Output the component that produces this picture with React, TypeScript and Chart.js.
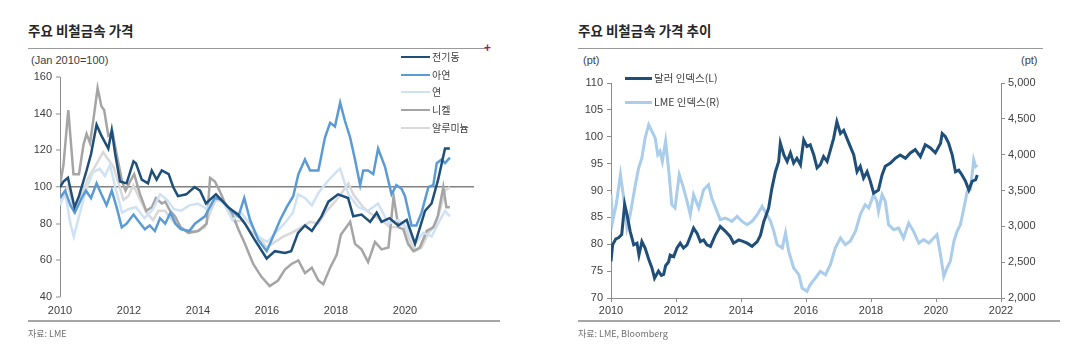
import React, { useEffect, useRef } from "react";
import { Chart, registerables } from "chart.js";

Chart.register(...registerables);

const FONT = "'Liberation Sans', 'Noto Sans CJK KR', sans-serif";
const KFONT = "'Noto Sans CJK KR', 'Liberation Sans', sans-serif";

// ---------- Left chart: 주요 비철금속 가격 (Jan 2010=100) ----------
const copperYears = [2010.0, 2010.1, 2010.23, 2010.42, 2010.55, 2010.77, 2010.9, 2011.06, 2011.2, 2011.4, 2011.5, 2011.6, 2011.74, 2011.93, 2012.13, 2012.2, 2012.37, 2012.55, 2012.66, 2012.8, 2012.95, 2013.15, 2013.28, 2013.42, 2013.66, 2013.9, 2014.06, 2014.23, 2014.52, 2014.87, 2015.16, 2015.36, 2015.65, 2015.99, 2016.23, 2016.52, 2016.7, 2016.9, 2017.1, 2017.3, 2017.58, 2017.78, 2018.06, 2018.35, 2018.5, 2018.74, 2018.99, 2019.18, 2019.32, 2019.55, 2019.8, 2020.05, 2020.29, 2020.58, 2020.77, 2020.96, 2021.16, 2021.3];
const copperValues = [100, 103, 105, 89, 95, 109, 118, 134, 128, 121, 131, 118, 103, 102, 114, 113, 104, 102, 109, 104, 109, 107, 100, 95, 96, 100, 98, 91, 96, 89, 85, 80, 71, 61, 65, 64, 65, 75, 79, 76, 84, 92, 96, 94, 84, 85, 81, 86, 81, 83, 79, 82, 69, 87, 91, 104, 121, 121];

const zincYears = [2010.0, 2010.15, 2010.3, 2010.43, 2010.63, 2010.75, 2010.9, 2011.06, 2011.2, 2011.35, 2011.5, 2011.64, 2011.79, 2011.93, 2012.13, 2012.25, 2012.46, 2012.6, 2012.75, 2012.9, 2013.05, 2013.2, 2013.35, 2013.5, 2013.75, 2013.91, 2014.2, 2014.49, 2014.69, 2014.98, 2015.17, 2015.34, 2015.51, 2015.75, 2015.99, 2016.13, 2016.38, 2016.57, 2016.76, 2016.91, 2017.1, 2017.25, 2017.49, 2017.68, 2017.83, 2017.97, 2018.12, 2018.26, 2018.41, 2018.55, 2018.7, 2018.79, 2018.93, 2019.08, 2019.22, 2019.42, 2019.61, 2019.75, 2019.9, 2020.0, 2020.19, 2020.33, 2020.48, 2020.68, 2020.82, 2020.92, 2021.06, 2021.16, 2021.3];
const zincValues = [94, 98, 90, 86, 94, 98, 94, 102, 96, 90, 98, 89, 78, 80, 85, 82, 77, 79, 76, 83, 80, 86, 80, 77, 76, 80, 84, 94, 93, 87, 84, 94, 82, 71, 65, 71, 82, 89, 95, 107, 115, 109, 109, 127, 135, 133, 146, 136, 127, 115, 101, 109, 109, 107, 121, 111, 96, 101, 99, 95, 79, 79, 86, 100, 101, 113, 115, 113, 116];

const leadYears = [2010.0, 2010.15, 2010.3, 2010.4, 2010.55, 2010.75, 2010.95, 2011.15, 2011.3, 2011.45, 2011.6, 2011.8, 2012.0, 2012.2, 2012.45, 2012.7, 2012.9, 2013.1, 2013.3, 2013.5, 2013.75, 2014.0, 2014.25, 2014.5, 2014.75, 2015.0, 2015.25, 2015.5, 2015.75, 2016.0, 2016.25, 2016.5, 2016.75, 2016.9, 2017.1, 2017.3, 2017.5, 2017.75, 2018.0, 2018.12, 2018.36, 2018.65, 2018.93, 2019.22, 2019.52, 2019.81, 2020.05, 2020.29, 2020.53, 2020.77, 2020.96, 2021.16, 2021.3];
const leadValues = [90, 97, 80, 73, 84, 98, 108, 110, 106, 112, 100, 86, 88, 89, 83, 88, 96, 93, 88, 87, 90, 91, 88, 94, 91, 82, 86, 80, 73, 70, 75, 80, 86, 96, 94, 90, 97, 103, 108, 110, 96, 89, 87, 91, 80, 82, 78, 69, 75, 73, 80, 87, 84];

const nickelYears = [2010.0, 2010.1, 2010.24, 2010.39, 2010.55, 2010.68, 2010.77, 2010.87, 2010.97, 2011.09, 2011.2, 2011.28, 2011.4, 2011.52, 2011.64, 2011.8, 2011.9, 2012.03, 2012.15, 2012.32, 2012.5, 2012.66, 2012.78, 2012.95, 2013.05, 2013.19, 2013.33, 2013.5, 2013.72, 2014.01, 2014.25, 2014.35, 2014.49, 2014.65, 2014.83, 2014.98, 2015.17, 2015.36, 2015.6, 2015.84, 2016.08, 2016.32, 2016.52, 2016.71, 2016.91, 2017.1, 2017.3, 2017.49, 2017.63, 2017.83, 2018.02, 2018.14, 2018.41, 2018.55, 2018.74, 2018.93, 2019.13, 2019.32, 2019.52, 2019.67, 2019.81, 2019.95, 2020.09, 2020.24, 2020.43, 2020.63, 2020.82, 2020.95, 2021.11, 2021.2, 2021.3];
const nickelValues = [101, 112, 142, 107, 107, 123, 129, 124, 137, 154, 144, 142, 128, 130, 118, 103, 98, 103, 107, 96, 87, 89, 94, 91, 92, 87, 84, 78, 75, 76, 80, 105, 103, 97, 89, 86, 77, 69, 58, 51, 46, 49, 55, 58, 60, 53, 56, 49, 47, 56, 63, 74, 81, 69, 66, 59, 70, 66, 67, 95, 78, 77, 69, 65, 67, 76, 78, 84, 100, 89, 89];

const aluminiumYears = [2010.0, 2010.24, 2010.4, 2010.63, 2010.82, 2011.01, 2011.25, 2011.4, 2011.55, 2011.7, 2011.84, 2011.98, 2012.13, 2012.32, 2012.51, 2012.7, 2012.85, 2013.04, 2013.24, 2013.43, 2013.67, 2013.96, 2014.2, 2014.35, 2014.49, 2014.69, 2014.88, 2015.07, 2015.31, 2015.51, 2015.75, 2015.99, 2016.23, 2016.47, 2016.71, 2017.0, 2017.25, 2017.49, 2017.73, 2017.97, 2018.14, 2018.36, 2018.5, 2018.7, 2018.89, 2019.13, 2019.37, 2019.57, 2019.75, 2019.95, 2020.14, 2020.29, 2020.48, 2020.68, 2020.87, 2021.01, 2021.16, 2021.3];
const aluminiumValues = [92, 101, 87, 96, 105, 111, 119, 115, 111, 102, 93, 95, 101, 93, 86, 82, 87, 87, 82, 78, 76, 76, 78, 86, 92, 94, 87, 81, 82, 76, 73, 67, 70, 73, 75, 78, 81, 80, 87, 92, 96, 102, 96, 91, 87, 84, 81, 78, 78, 80, 71, 65, 67, 75, 79, 87, 98, 100];

const leftYTicks = [40, 60, 80, 100, 120, 140, 160];
const leftXTicks = [2010, 2012, 2014, 2016, 2018, 2020];

// ---------- Right chart: 주요 비철금속 가격 추이 ----------
const dollarYears = [2010.0, 2010.05, 2010.15, 2010.23, 2010.33, 2010.42, 2010.49, 2010.59, 2010.7, 2010.8, 2010.86, 2010.95, 2011.05, 2011.16, 2011.26, 2011.34, 2011.46, 2011.55, 2011.62, 2011.68, 2011.77, 2011.82, 2011.93, 2012.03, 2012.13, 2012.23, 2012.34, 2012.44, 2012.54, 2012.65, 2012.75, 2012.85, 2012.95, 2013.06, 2013.21, 2013.36, 2013.52, 2013.67, 2013.77, 2013.93, 2014.08, 2014.19, 2014.34, 2014.5, 2014.6, 2014.7, 2014.85, 2014.95, 2015.06, 2015.16, 2015.21, 2015.32, 2015.42, 2015.52, 2015.62, 2015.72, 2015.83, 2015.93, 2016.03, 2016.13, 2016.24, 2016.34, 2016.44, 2016.54, 2016.65, 2016.75, 2016.85, 2016.95, 2017.06, 2017.16, 2017.26, 2017.36, 2017.47, 2017.57, 2017.67, 2017.77, 2017.88, 2017.98, 2018.08, 2018.23, 2018.34, 2018.44, 2018.6, 2018.75, 2018.9, 2019.06, 2019.21, 2019.36, 2019.52, 2019.67, 2019.83, 2019.98, 2020.14, 2020.19, 2020.29, 2020.39, 2020.5, 2020.6, 2020.7, 2020.8, 2020.91, 2021.01, 2021.11, 2021.22, 2021.27];
const dollarValues = [76.8, 79.9, 81, 81.2, 81.8, 87.4, 85.6, 82.4, 79.9, 80.2, 78, 80.5, 79.3, 77.2, 75.6, 73.7, 75, 74.2, 74.4, 76, 76.7, 78, 77.7, 79.3, 80.2, 79.3, 79.9, 81.4, 83, 82, 80.5, 80.8, 79.9, 79.6, 81.7, 83.3, 82.4, 81.4, 80.2, 80.8, 80.5, 80.2, 79.6, 80.5, 81.7, 84.2, 86.7, 90.4, 93.5, 95.4, 98.8, 96.6, 95.4, 97, 95.1, 96, 94.8, 99.4, 98.2, 98.5, 96.6, 94.2, 94.8, 96.3, 95.4, 97.5, 99.7, 102.8, 100.6, 101.2, 99.7, 98.2, 96.6, 93.5, 94.5, 92.3, 93.5, 91.7, 89.5, 90.1, 92.9, 94.5, 95.1, 96, 96.6, 96, 97, 97.6, 96.3, 98.5, 97.9, 97, 98.8, 100.6, 100, 98.8, 96.6, 93.5, 93.8, 92.9, 91.7, 90.1, 91.7, 92, 92.9];

const lmeYears = [2010.0, 2010.05, 2010.16, 2010.29, 2010.39, 2010.49, 2010.59, 2010.75, 2010.85, 2010.95, 2011.05, 2011.16, 2011.26, 2011.36, 2011.44, 2011.51, 2011.58, 2011.68, 2011.79, 2011.87, 2011.97, 2012.1, 2012.2, 2012.34, 2012.44, 2012.54, 2012.7, 2012.85, 2013.0, 2013.1, 2013.26, 2013.36, 2013.52, 2013.72, 2013.88, 2014.03, 2014.19, 2014.34, 2014.5, 2014.65, 2014.8, 2014.91, 2015.01, 2015.11, 2015.27, 2015.37, 2015.47, 2015.62, 2015.78, 2015.88, 2016.03, 2016.13, 2016.29, 2016.44, 2016.6, 2016.75, 2016.9, 2017.06, 2017.21, 2017.36, 2017.52, 2017.67, 2017.82, 2017.93, 2018.08, 2018.18, 2018.23, 2018.34, 2018.44, 2018.54, 2018.7, 2018.85, 2019.0, 2019.16, 2019.31, 2019.47, 2019.62, 2019.78, 2019.93, 2020.03, 2020.14, 2020.24, 2020.34, 2020.44, 2020.55, 2020.65, 2020.75, 2020.86, 2020.96, 2021.06, 2021.16, 2021.22, 2021.27];
const lmeValues = [3442, 3070, 3302, 3721, 3395, 2977, 3163, 3582, 3814, 3954, 4233, 4418, 4325, 4233, 4000, 4047, 3907, 4186, 3721, 3302, 3256, 3721, 3582, 3349, 3163, 3442, 3256, 3512, 3582, 3395, 3209, 3093, 3116, 3070, 3140, 3070, 3023, 3070, 3163, 3279, 3163, 3070, 2930, 2744, 2698, 2907, 2651, 2419, 2325, 2140, 2093, 2186, 2279, 2372, 2325, 2465, 2698, 2837, 2744, 2791, 2930, 3163, 3302, 3256, 3442, 3349, 3209, 3442, 3349, 3023, 2953, 2977, 2837, 3047, 2930, 2767, 2814, 2767, 2837, 2884, 2605, 2302, 2419, 2512, 2791, 2930, 3023, 3256, 3488, 3512, 3930, 3837, 3860];

const rightLeftTicks = [70, 75, 80, 85, 90, 95, 100, 105, 110];
const rightRightTicks = [2000, 2500, 3000, 3500, 4000, 4500, 5000];
const rightXTicks = [2010, 2012, 2014, 2016, 2018, 2020, 2022];

const leftSeries = [
  { label: "전기동", years: copperYears, values: copperValues, color: "#1f4e79", width: 2.5 },
  { label: "아연", years: zincYears, values: zincValues, color: "#5b9bd5", width: 2.5 },
  { label: "연", years: leadYears, values: leadValues, color: "#cfe2f3", width: 2.5 },
  { label: "니켈", years: nickelYears, values: nickelValues, color: "#a5a5a5", width: 2.5 },
  { label: "알루미늄", years: aluminiumYears, values: aluminiumValues, color: "#d9d9d9", width: 2.5 },
];

const rightSeries = [
  { label: "달러 인덱스(L)", years: dollarYears, values: dollarValues, color: "#1f4e79", axis: "y" },
  { label: "LME 인덱스(R)", years: lmeYears, values: lmeValues, color: "#a9cdeb", axis: "y2" },
];

const zip = (xs: number[], ys: number[]) => xs.map((x, i) => ({ x, y: ys[i] }));

const AXIS = "#8c8c8c";
const TICK_TEXT = "#404040";

function LeftChart() {
  const ref = useRef<HTMLCanvasElement>(null);
  useEffect(() => {
    const chart = new Chart(ref.current!, {
      type: "line",
      data: {
        datasets: leftSeries.map((s) => ({
          label: s.label,
          data: zip(s.years, s.values),
          borderColor: s.color,
          backgroundColor: s.color,
          borderWidth: s.width,
          pointRadius: 0,
          tension: 0,
        })),
      },
      options: {
        animation: false,
        responsive: false,
        maintainAspectRatio: false,
        layout: { padding: { top: 25, right: 16, left: 0, bottom: 0 } },
        plugins: { legend: { display: false }, tooltip: { enabled: false } },
        scales: {
          x: {
            type: "linear",
            min: 2010,
            max: 2022,
            afterBuildTicks: (s: any) => {
              s.ticks = leftXTicks.map((v) => ({ value: v }));
            },
            ticks: {
              autoSkip: false,
              maxRotation: 0,
              padding: 7,
              color: TICK_TEXT,
              font: { family: FONT, size: 11 },
              callback: (v: any) => String(v),
            },
            grid: { display: false, drawTicks: false },
            border: { display: false },
            afterFit: (s: any) => {
              s.height = 25;
            },
          },
          y: {
            min: 40,
            max: 160,
            afterBuildTicks: (s: any) => {
              s.ticks = leftYTicks.map((v) => ({ value: v }));
            },
            ticks: { color: TICK_TEXT, padding: 4, font: { family: FONT, size: 11 } },
            grid: {
              color: (c: any) => (c.tick && c.tick.value === 100 ? "#808080" : "rgba(0,0,0,0)"),
              lineWidth: (c: any) => (c.tick && c.tick.value === 100 ? 1.5 : 0),
              tickColor: AXIS,
              tickWidth: 1,
              tickLength: 4,
            },
            border: { display: true, color: AXIS, width: 1 },
            afterFit: (s: any) => {
              s.width = 40;
            },
          },
        },
      },
    });
    return () => chart.destroy();
  }, []);
  return <canvas ref={ref} width={470} height={270} style={{ position: "absolute", left: 20, top: 52, width: 470, height: 270 }} />;
}

function RightChart() {
  const ref = useRef<HTMLCanvasElement>(null);
  useEffect(() => {
    const chart = new Chart(ref.current!, {
      type: "line",
      data: {
        datasets: rightSeries.map((s) => ({
          label: s.label,
          data: zip(s.years, s.values),
          borderColor: s.color,
          backgroundColor: s.color,
          borderWidth: 3,
          pointRadius: 0,
          tension: 0,
          yAxisID: s.axis,
        })),
      },
      options: {
        animation: false,
        responsive: false,
        maintainAspectRatio: false,
        layout: { padding: { top: 31, right: 0, left: 0, bottom: 0 } },
        plugins: { legend: { display: false }, tooltip: { enabled: false } },
        scales: {
          x: {
            type: "linear",
            min: 2010,
            max: 2022,
            afterBuildTicks: (s: any) => {
              s.ticks = rightXTicks.map((v) => ({ value: v }));
            },
            ticks: {
              autoSkip: false,
              maxRotation: 0,
              padding: 2,
              color: TICK_TEXT,
              font: { family: FONT, size: 11 },
              callback: (v: any) => String(v),
            },
            grid: { drawOnChartArea: false, drawTicks: true, tickLength: 4, color: AXIS },
            border: { display: true, color: AXIS, width: 1 },
            afterFit: (s: any) => {
              s.height = 24;
            },
          },
          y: {
            position: "left",
            min: 70,
            max: 110,
            afterBuildTicks: (s: any) => {
              s.ticks = rightLeftTicks.map((v) => ({ value: v }));
            },
            ticks: { color: TICK_TEXT, padding: 4, font: { family: FONT, size: 11 } },
            grid: { drawOnChartArea: false, drawTicks: true, tickLength: 4, color: AXIS },
            border: { display: true, color: AXIS, width: 1 },
            afterFit: (s: any) => {
              s.width = 36;
            },
          },
          y2: {
            position: "right",
            min: 2000,
            max: 5000,
            afterBuildTicks: (s: any) => {
              s.ticks = rightRightTicks.map((v) => ({ value: v }));
            },
            ticks: {
              color: TICK_TEXT,
              padding: 3,
              font: { family: FONT, size: 11 },
              callback: (v: any) => Number(v).toLocaleString("en-US"),
            },
            grid: { drawOnChartArea: false, drawTicks: true, tickLength: 4, color: AXIS },
            border: { display: true, color: AXIS, width: 1 },
            afterFit: (s: any) => {
              s.width = 54;
            },
          },
        },
      },
    });
    return () => chart.destroy();
  }, []);
  return <canvas ref={ref} width={480} height={270} style={{ position: "absolute", left: 575, top: 52, width: 480, height: 270 }} />;
}

const abs = (left: number, top: number, extra: React.CSSProperties = {}): React.CSSProperties => ({
  position: "absolute",
  left,
  top,
  whiteSpace: "nowrap",
  ...extra,
});

function LegendRow({ x, y, color, label, size, lineW, lineLen }: { x: number; y: number; color: string; label: string; size: number; lineW: number; lineLen: number }) {
  return (
    <div style={abs(x, y - 8, { height: 16, display: "flex", alignItems: "center" })}>
      <div style={{ width: lineLen, height: lineW, background: color }} />
      <span style={{ marginLeft: 2, fontFamily: KFONT, fontSize: size, color: "#404040", lineHeight: "16px" }}>{label}</span>
    </div>
  );
}

export default function App() {
  const legendYLeft = [57, 75, 92, 110, 128];
  const legendYRight = [78, 102];
  return (
    <div style={{ position: "fixed", left: 0, top: 0, width: 1067, height: 358, background: "#ffffff", overflow: "hidden" }}>
      {/* Left panel */}
      <div style={abs(28, 21, { fontFamily: KFONT, fontSize: 13.5, fontWeight: 700, color: "#262626", lineHeight: "18px" })}>주요 비철금속 가격</div>
      <div style={abs(28, 48, { width: 460, height: 1, background: "#9a9a9a" })} />
      <div style={abs(484, 41, { fontFamily: FONT, fontSize: 12, color: "#c0143c", lineHeight: "14px", fontWeight: 700 })}>+</div>
      <div style={abs(31, 53, { fontFamily: FONT, fontSize: 11, color: "#404040", lineHeight: "14px" })}>(Jan 2010=100)</div>
      <LeftChart />
      {leftSeries.map((s, i) => (
        <LegendRow key={s.label} x={401} y={legendYLeft[i]} color={s.color} label={s.label} size={10} lineW={2.5} lineLen={29} />
      ))}
      <div style={abs(28, 320, { width: 472, height: 1.5, background: "#a6a6a6" })} />
      <div style={abs(28, 328, { fontFamily: KFONT, fontSize: 9, color: "#707070", lineHeight: "12px" })}>자료: LME</div>

      {/* Right panel */}
      <div style={abs(578, 21, { fontFamily: KFONT, fontSize: 13.5, fontWeight: 700, color: "#262626", lineHeight: "18px" })}>주요 비철금속 가격 추이</div>
      <div style={abs(578, 48, { width: 465, height: 1, background: "#9a9a9a" })} />
      <div style={abs(583, 53, { fontFamily: FONT, fontSize: 11, color: "#404040", lineHeight: "14px" })}>(pt)</div>
      <div style={abs(1021, 53, { fontFamily: FONT, fontSize: 11, color: "#404040", lineHeight: "14px" })}>(pt)</div>
      <RightChart />
      {rightSeries.map((s, i) => (
        <LegendRow key={s.label} x={625} y={legendYRight[i]} color={s.color} label={s.label} size={10.5} lineW={3} lineLen={27} />
      ))}
      <div style={abs(578, 320, { width: 482, height: 1.5, background: "#a6a6a6" })} />
      <div style={abs(578, 328, { fontFamily: KFONT, fontSize: 9, color: "#707070", lineHeight: "12px" })}>자료: LME, Bloomberg</div>
    </div>
  );
}
